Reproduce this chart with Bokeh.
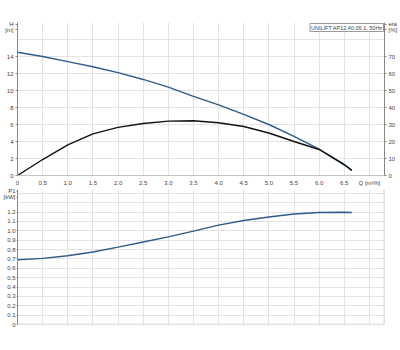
from bokeh.plotting import figure
from bokeh.layouts import column
from bokeh.models import Range1d, LinearAxis, FixedTicker, Label, Span
from bokeh.embed import file_html
from bokeh.resources import INLINE

# ---- data ----
q = [0.0, 0.5, 1.0, 1.5, 2.0, 2.5, 3.0, 3.5, 4.0, 4.5, 5.0, 5.5, 6.0, 6.5, 6.65]
head = [14.5, 14.0, 13.4, 12.8, 12.1, 11.3, 10.4, 9.3, 8.3, 7.2, 6.0, 4.6, 3.1, 1.3, 0.6]
eta = [0.0, 9.4, 18.0, 24.5, 28.3, 30.6, 32.0, 32.2, 31.0, 28.8, 25.0, 20.0, 15.3, 6.3, 3.0]
p1 = [0.69, 0.705, 0.733, 0.773, 0.826, 0.88, 0.935, 0.996, 1.06, 1.11, 1.147, 1.178, 1.194, 1.197, 1.194]

q_ticks = [0, 0.5, 1, 1.5, 2, 2.5, 3, 3.5, 4, 4.5, 5, 5.5, 6, 6.5, 7]
q_labels = ["0", "0.5", "1.0", "1.5", "2.0", "2.5", "3.0", "3.5", "4.0", "4.5", "5.0", "5.5", "6.0", "6.5", "Q [m³/h]"]
h_ticks = [0, 2, 4, 6, 8, 10, 12, 14]
eta_ticks = [0, 10, 20, 30, 40, 50, 60, 70]
p_ticks = [0, 0.1, 0.2, 0.3, 0.4, 0.5, 0.6, 0.7, 0.8, 0.9, 1.0, 1.1, 1.2]
p_labels = ["0", "0.1", "0.2", "0.3", "0.4", "0.5", "0.6", "0.7", "0.8", "0.9", "1.0", "1.1", "1.2"]
h_unit = {17.82: "H", 17.12: "[m]"}
eta_unit = {89.1: "eta", 85.6: "[%]"}
p_unit = {1.42: "P1", 1.355: "[kW]"}
legend_text = "UNILIFT AP12.40.06.1, 50Hz"

FONT = "Liberation Sans"
FS = "6px"
TXT = "#444444"
GRID = "#e3e3e3"
BORDER = "#c4c4c4"
BLUE = "#2d5b8c"


def style_axis(ax):
    ax.major_label_text_font = FONT
    ax.major_label_text_font_size = FS
    ax.major_label_text_color = TXT
    ax.major_tick_in = 0
    ax.major_tick_out = 2
    ax.minor_tick_in = 0
    ax.minor_tick_out = 0
    ax.major_label_standoff = 2
    ax.axis_line_color = "#888888"
    ax.major_tick_line_color = "#888888"


# ---------------- top chart ----------------
top = figure(width=400, height=188, output_backend="svg", toolbar_location=None,
             x_range=Range1d(0, 7.3), y_range=Range1d(0, 18),
             min_border_left=17, min_border_right=14, min_border_top=22, min_border_bottom=12)
top.outline_line_color = None
top.extra_y_ranges = {"eta": Range1d(0, 90)}

top.xaxis.ticker = FixedTicker(ticks=q_ticks)
top.xaxis.major_label_overrides = {t: s for t, s in zip(q_ticks, q_labels)}
top.yaxis.ticker = FixedTicker(ticks=h_ticks + list(h_unit))
h_over = {t: str(t) for t in h_ticks}
h_over.update(h_unit)
top.yaxis.major_label_overrides = h_over
for ax in top.xaxis + top.yaxis:
    style_axis(ax)
top.xaxis.axis_line_color = BORDER
top.xaxis.major_tick_line_color = None

right_ax = LinearAxis(y_range_name="eta", ticker=FixedTicker(ticks=eta_ticks + list(eta_unit)))
e_over = {t: str(t) for t in eta_ticks}
e_over.update(eta_unit)
right_ax.major_label_overrides = e_over
style_axis(right_ax)
top.add_layout(right_ax, "right")

top.xgrid.ticker = FixedTicker(ticks=q_ticks)
top.ygrid.ticker = FixedTicker(ticks=[0, 2, 4, 6, 8, 10, 12, 14, 16])
top.grid.grid_line_color = GRID

top.line(q, head, line_color=BLUE, line_width=1.4)
top.line(q, eta, y_range_name="eta", line_color="#111111", line_width=1.4)

top.add_layout(Label(x=7.3, y=18, x_offset=-1, y_offset=-1, text=legend_text,
                     text_font=FONT, text_font_size="5.5px", text_color=TXT,
                     text_align="right", text_baseline="top",
                     background_fill_color="white", border_line_color="#999999",
                     border_line_width=1, padding=1))

# ---------------- bottom chart ----------------
bot = figure(width=400, height=162, output_backend="svg", toolbar_location=None,
             x_range=Range1d(0, 7.3), y_range=Range1d(0, 1.44),
             min_border_left=17, min_border_right=14, min_border_top=1, min_border_bottom=26)
bot.outline_line_color = None
bot.xaxis.visible = False
bot.yaxis.ticker = FixedTicker(ticks=p_ticks + list(p_unit))
p_over = {t: s for t, s in zip(p_ticks, p_labels)}
p_over.update(p_unit)
bot.yaxis.major_label_overrides = p_over
for ax in bot.yaxis:
    style_axis(ax)
    ax.major_tick_out = 1
    ax.major_label_standoff = 1
bot.xgrid.ticker = FixedTicker(ticks=q_ticks)
bot.ygrid.ticker = FixedTicker(ticks=p_ticks + [1.3, 1.4])
bot.grid.grid_line_color = GRID
bot.add_layout(Span(location=0, dimension="width", line_color=BORDER, line_width=1.5))
bot.add_layout(Span(location=7.3, dimension="height", line_color=BORDER, line_width=1.5))

bot.line(q, p1, line_color=BLUE, line_width=1.4)

layout = column(top, bot, spacing=0)
open("out.html", "w").write(file_html(layout, INLINE))
